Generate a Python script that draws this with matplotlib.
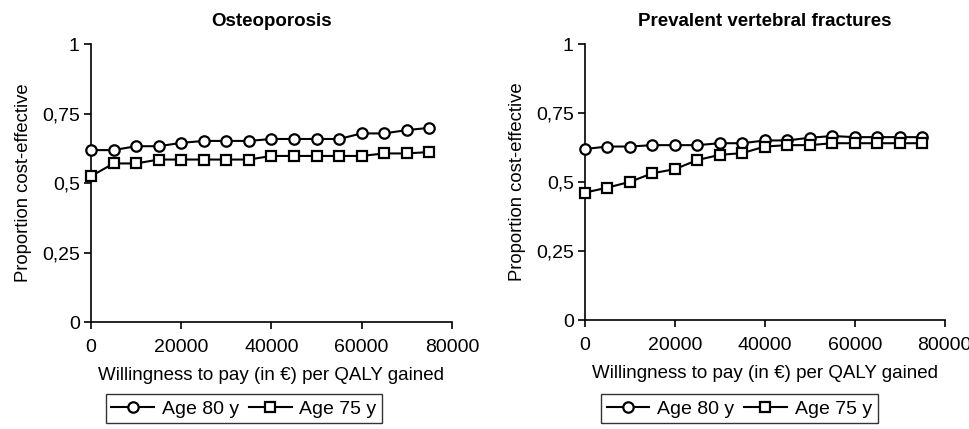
import numpy as np
import matplotlib.pyplot as plt
from matplotlib.ticker import FuncFormatter

plt.rcParams['font.family'] = ['Liberation Sans', 'DejaVu Sans']

# willingness to pay (euro per QALY)
wtp = [0, 5000, 10000, 15000, 20000, 25000, 30000, 35000,
       40000, 45000, 50000, 55000, 60000, 65000, 70000, 75000]

# Osteoporosis panel
osteo_80 = [0.619, 0.619, 0.633, 0.633, 0.645, 0.652, 0.652, 0.652,
            0.659, 0.659, 0.659, 0.659, 0.679, 0.679, 0.691, 0.699]
osteo_75 = [0.525, 0.571, 0.571, 0.585, 0.585, 0.585, 0.585, 0.585,
            0.598, 0.598, 0.598, 0.598, 0.598, 0.607, 0.607, 0.612]

# Prevalent vertebral fractures panel
vert_80 = [0.620, 0.629, 0.629, 0.634, 0.634, 0.634, 0.641, 0.641,
           0.651, 0.651, 0.661, 0.667, 0.663, 0.663, 0.663, 0.663]
vert_75 = [0.462, 0.480, 0.501, 0.532, 0.547, 0.580, 0.599, 0.605,
           0.629, 0.634, 0.634, 0.641, 0.641, 0.641, 0.641, 0.641]

titles = ["Osteoporosis", "Prevalent vertebral fractures"]
series_labels = ["Age 80 y", "Age 75 y"]
y_ticks = [0, 0.25, 0.5, 0.75, 1]
x_ticks = [0, 20000, 40000, 60000, 80000]


def comma_fmt(v, pos):
    if v == 0:
        return "0"
    if v == 1:
        return "1"
    return f"{v:g}".replace(".", ",")


fig = plt.figure(figsize=(9.7, 4.29), dpi=100)
ax_boxes = [[0.0938, 0.249, 0.372, 0.648],
            [0.6030, 0.254, 0.371, 0.643]]
leg_anchor = [(0.108, 0.012, 0.287, 0.07),
              (0.618, 0.012, 0.288, 0.07)]

panels = [(osteo_80, osteo_75), (vert_80, vert_75)]

for i, (s80, s75) in enumerate(panels):
    ax = fig.add_axes(ax_boxes[i])
    h1, = ax.plot(wtp, s80, color='black', lw=1.5, marker='o', ms=7.5,
                  mfc='white', mec='black', mew=1.6, clip_on=False, zorder=3)
    h2, = ax.plot(wtp, s75, color='black', lw=1.5, marker='s', ms=7.5,
                  mfc='white', mec='black', mew=1.6, clip_on=False, zorder=3)
    ax.set_xlim(0, 80000)
    ax.set_ylim(0, 1)
    ax.set_xticks(x_ticks)
    ax.set_yticks(y_ticks)
    ax.yaxis.set_major_formatter(FuncFormatter(comma_fmt))
    for side in ['top', 'right']:
        ax.spines[side].set_visible(False)
    for side in ['left', 'bottom']:
        ax.spines[side].set_linewidth(1.2)
    ax.tick_params(direction='out', length=5, width=1.2, labelsize=14)
    ax.tick_params(axis='x', pad=7)
    ax.tick_params(axis='y', pad=3)
    ax.set_title(titles[i], fontsize=13.5, fontweight='bold', pad=13)
    ax.set_xlabel("Willingness to pay (in €) per QALY gained",
                  fontsize=13.5, labelpad=8)
    ax.set_ylabel("Proportion cost-effective", fontsize=13.3, labelpad=7)
    fig.legend([h1, h2], series_labels, loc='center',
               bbox_to_anchor=leg_anchor[i], ncol=2, fontsize=14,
               frameon=True, fancybox=False, edgecolor='black',
               handlelength=2.2, handletextpad=0.4, columnspacing=0.5,
               borderpad=0.3, borderaxespad=0)
    fig.legends[-1].get_frame().set_linewidth(1.0)

fig.savefig("out.png", dpi=100)
